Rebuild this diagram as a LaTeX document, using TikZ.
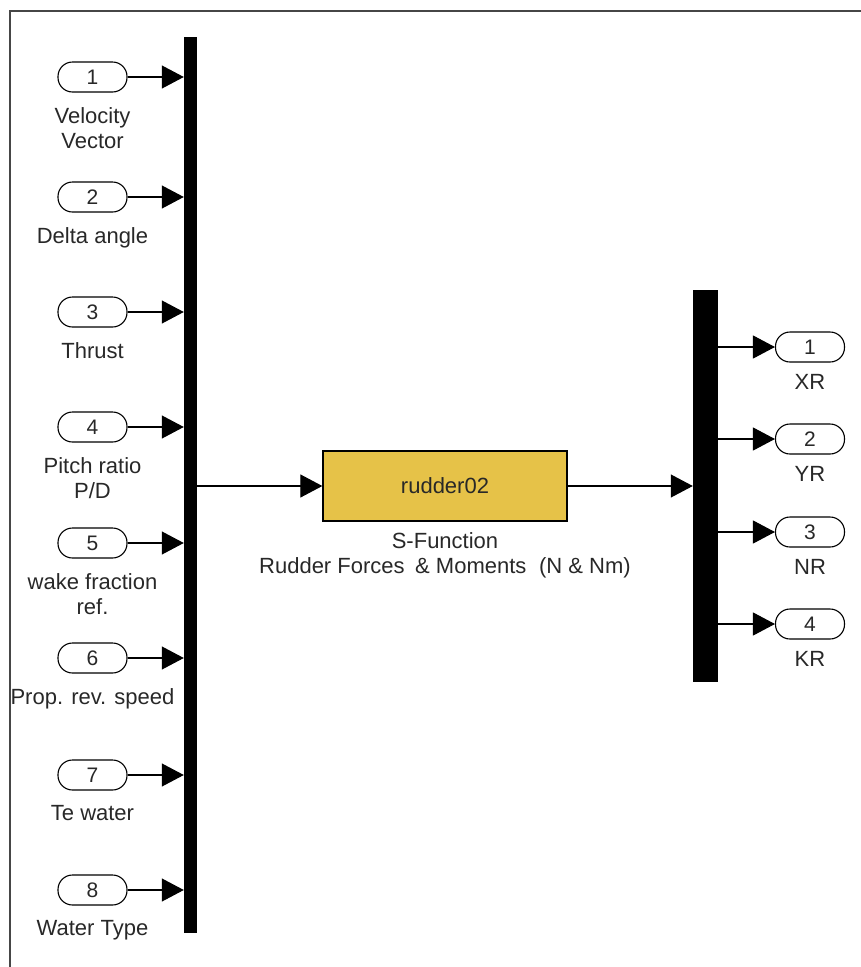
\documentclass[tikz,border=0pt]{standalone}
\usepackage{fontspec}
\setmainfont{Liberation Sans}
\usetikzlibrary{arrows.meta,calc}
\definecolor{blockfill}{RGB}{230,194,72}
\definecolor{txt}{RGB}{40,40,40}
\definecolor{framec}{RGB}{70,70,70}
\begin{document}
\begin{tikzpicture}[x=1pt,y=-1pt,
  port/.style={draw=black, line width=1.1pt, fill=white, rounded corners=14.5pt,
    minimum width=69pt, minimum height=30pt, inner sep=0pt,
    font=\fontsize{21}{24}\selectfont, text=txt},
  lbl/.style={anchor=north, inner sep=0pt, align=center,
    font=\fontsize{22}{25}\selectfont, text=txt},
  bus/.style={fill=black, draw=none, inner sep=0pt},
  sig/.style={line width=1.1pt, -{Triangle[length=22pt,width=23pt]}},
  tick/.style={line width=1.6pt, dash pattern=on 1.5pt off 2.5pt},
]
\useasboundingbox (0,0) rectangle (861,967);
% frame
\draw[line width=2pt, framec] (10,967) -- (10,11) -- (861,11);

% buses
\node[bus, minimum width=13pt, minimum height=896pt] (lbus) at (190.5,485) {};
\node[bus, minimum width=25pt, minimum height=392pt] (rbus) at (705.5,486) {};

% block
\node[draw=black, line width=1.3pt, fill=blockfill, minimum width=244pt, minimum height=70pt,
  inner sep=0pt, font=\fontsize{22}{25}\selectfont, text=txt] (blk) at (445,486) {rudder02};
\node[lbl] (blktxt) at ($(blk.south)+(0,11)$) {S-Function\\Rudder Forces\hspace{0.2em} \& Moments\hspace{0.3em} (N \& Nm)};

% input ports
\foreach \n/\y/\t in {1/77/{Velocity\\Vector}, 2/197/{Delta angle}, 3/312/{Thrust},
  4/427/{Pitch ratio\\P/D}, 5/543/{wake fraction\\ref.}, 6/658/{Prop. rev. speed},
  7/775/{Te water}, 8/890/{Water Type}}{
  \node[port] (in\n) at (92.5,\y) {\n};
  \node[lbl] (inl\n) at ($(in\n.south)+(0,15)$) {\t};
  \draw[sig] (in\n.east) -- (in\n.east -| lbus.west);
}
% output ports
\foreach \n/\y/\t in {1/347/XR, 2/439/YR, 3/532/NR, 4/624/KR}{
  \node[port] (out\n) at (810,\y) {\n};
  \node[lbl] (outl\n) at ($(out\n.south)+(0,12)$) {\t};
  \draw[sig] (out\n.west -| rbus.east) -- (out\n.west);
}
% main signals
\draw[sig] (blk.west -| lbus.east) -- (blk.west);
\draw[sig] (blk.east) -- (blk.east -| rbus.west);

% small signal markers
\draw[tick] ($(in5.east)+(12,0)$) -- ($(in5.east)+(24,0)$);
\draw[tick] ($(in6.east)+(12,0)$) -- ($(in6.east)+(24,0)$);
\draw[tick] ($(out2.west -| rbus.east)+(12,0)$) -- ($(out2.west -| rbus.east)+(24,0)$);
\draw[tick] ($(blk.west)+(-35,0)$) -- ($(blk.west)+(-25,0)$);
\draw[tick] ($(blk.west -| lbus.east)+(4,0)$) -- ($(blk.west -| lbus.east)+(10,0)$);
\draw[tick] ($(blk.east)+(5,0)$) -- ($(blk.east)+(10,0)$);
\draw[tick] ($(blk.east -| rbus.west)+(-35,0)$) -- ($(blk.east -| rbus.west)+(-25,0)$);
\end{tikzpicture}
\end{document}
